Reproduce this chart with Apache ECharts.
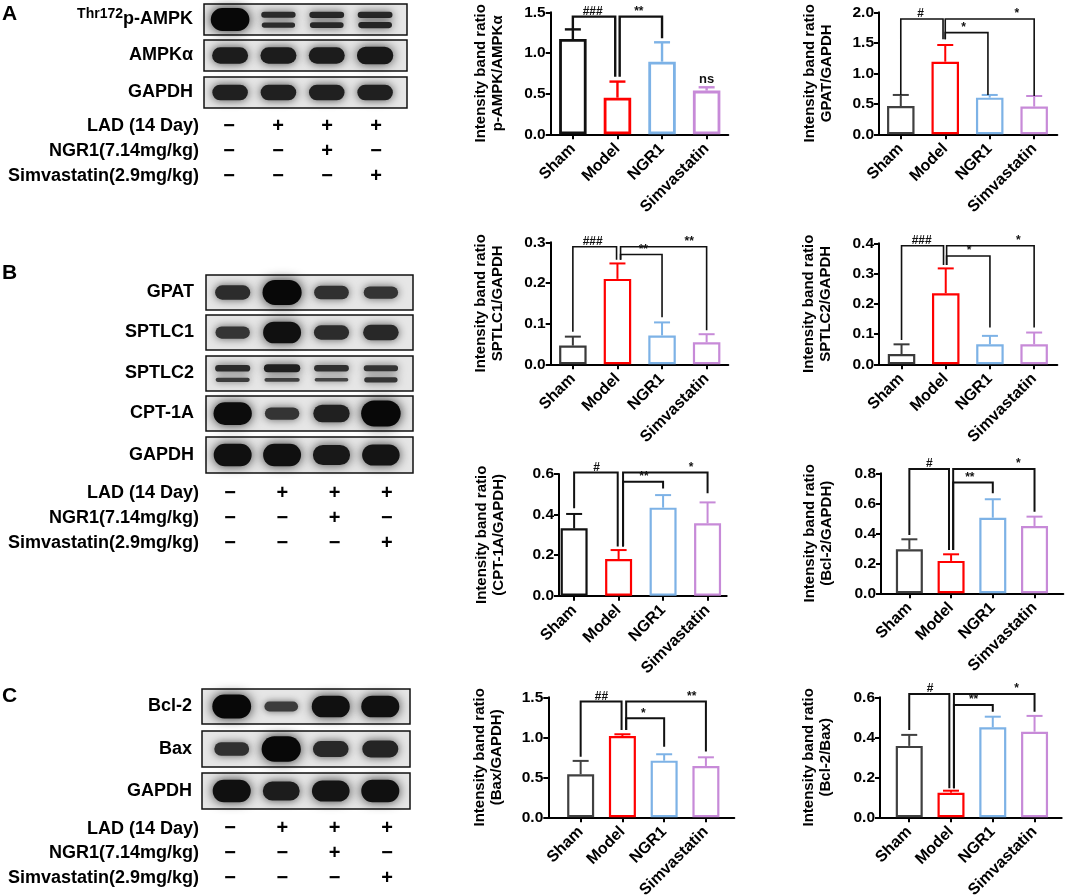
<!DOCTYPE html>
<html><head><meta charset="utf-8">
<script src="https://cdn.jsdelivr.net/npm/echarts@6/dist/echarts.min.js"></script>
<style>html,body{margin:0;padding:0;background:#fff}#c{width:1065px;height:895px}</style>
</head><body><div id="c"></div>
<script>
// ---------- data ----------
const groups = ['Sham', 'Model', 'NGR1', 'Simvastatin'];

const ampkMean = [1.172, 0.45, 0.893, 0.537];
const ampkErr  = [0.118, 0.198, 0.238, 0.041];
const gpatMean = [0.464, 1.19, 0.601, 0.454];
const gpatErr  = [0.181, 0.274, 0.044, 0.174];
const sptlc1Mean = [0.046, 0.210, 0.071, 0.054];
const sptlc1Err  = [0.022, 0.038, 0.032, 0.020];
const sptlc2Mean = [0.034, 0.235, 0.066, 0.066];
const sptlc2Err  = [0.032, 0.082, 0.028, 0.039];
const cptMean = [0.332, 0.181, 0.434, 0.357];
const cptErr  = [0.071, 0.044, 0.062, 0.103];
const bcl2Mean = [0.293, 0.216, 0.504, 0.449];
const bcl2Err  = [0.067, 0.044, 0.123, 0.062];
const baxMean = [0.538, 1.017, 0.708, 0.642];
const baxErr  = [0.167, 0.021, 0.080, 0.108];
const ratioMean = [0.357, 0.123, 0.450, 0.428];
const ratioErr  = [0.055, 0.010, 0.053, 0.079];

// significance brackets: [fromGroup, toGroup, level, fromEnd, toEnd, labelAt, label]
const ampkSig = [[0, 0.95, 1.447, 1.291, 0.709, 0.445, '###'], [1.05, 2, 1.447, 0.709, 1.18, 1.48, '**']];
const ampkNotes = [[3, 0.59, 'ns']];
const gpatSig = [[0, 0.95, 1.891, 0.645, 1.557, 0.446, '#'], [1.0, 1.96, 1.667, 1.557, 0.645, 1.41, '*'], [1.0, 3, 1.891, 1.557, 0.628, 2.61, '*']];
const sptlc1Sig = [[0, 0.98, 0.289, 0.080, 0.257, 0.445, '###'], [1.07, 2, 0.270, 0.257, 0.116, 1.58, '**'], [1.07, 3, 0.289, 0.257, 0.084, 2.61, '**']];
const sptlc2Sig = [[0, 0.95, 0.392, 0.080, 0.328, 0.456, '###'], [1.02, 2, 0.358, 0.328, 0.122, 1.53, '*'], [1.02, 3, 0.392, 0.328, 0.122, 2.64, '*']];
const cptSig = [[0, 0.98, 0.608, 0.431, 0.242, 0.506, '#'], [1.1, 2, 0.562, 0.242, 0.529, 1.57, '**'], [1.1, 3, 0.608, 0.242, 0.505, 2.63, '*']];
const bcl2Sig = [[0, 0.95, 0.829, 0.389, 0.289, 0.48, '#'], [1.05, 2, 0.738, 0.289, 0.667, 1.45, '**'], [1.05, 3, 0.829, 0.289, 0.544, 2.61, '*']];
const baxSig = [[0, 0.98, 1.446, 0.758, 1.092, 0.50, '##'], [1.09, 2, 1.2375, 1.092, 0.883, 1.50, '*'], [1.09, 3, 1.446, 1.092, 0.821, 2.66, '**']];
const ratioSig = [[0, 0.96, 0.617, 0.437, 0.145, 0.5, '#'], [1.07, 2, 0.562, 0.145, 0.528, 1.54, '**'], [1.07, 3, 0.617, 0.145, 0.528, 2.57, '*']];

// western blot band intensities per lane (0..1), optional lower band
const pampkBand = [1.0, 0.45, 0.5, 0.5];
const pampkLow  = [0, 0.45, 0.5, 0.55];
const ampkBand  = [0.65, 0.65, 0.65, 0.7];
const gapdhABand = [0.6, 0.6, 0.6, 0.6];
const gpatBand  = [0.45, 0.95, 0.4, 0.35];
const sptlc1Band = [0.35, 0.8, 0.45, 0.5];
const sptlc2Band = [0.45, 0.6, 0.4, 0.35];
const sptlc2Low  = [0.25, 0.2, 0.15, 0.35];
const cpt1aBand = [0.85, 0.35, 0.6, 1.0];
const gapdhBBand = [0.8, 0.8, 0.7, 0.75];
const bcl2Band = [0.9, 0.25, 0.8, 0.8];
const baxBand  = [0.4, 0.95, 0.5, 0.55];
const gapdhCBand = [0.8, 0.65, 0.75, 0.8];

const treatments = ['LAD (14 Day)', 'NGR1(7.14mg/kg)', 'Simvastatin(2.9mg/kg)'];
const ladSigns  = ['\u2212', '+', '+', '+'];
const ngr1Signs = ['\u2212', '\u2212', '+', '\u2212'];
const simvSigns = ['\u2212', '\u2212', '\u2212', '+'];

// ---------- build ----------
const FONT = '"Liberation Sans", Arial, Helvetica, sans-serif';
const MODEL = '#ff0000', NGR = '#7db2e6', SIMV = '#c78ad8';
const option = { animation: false, backgroundColor: '#fff', grid: [], xAxis: [], yAxis: [], series: [], graphic: [] };

function addGrid(g, x, y) {
  const i = option.grid.length;
  g.outerBoundsMode = 'none';
  g.containLabel = false;
  option.grid.push(g); x.gridIndex = i; y.gridIndex = i;
  option.xAxis.push(x); option.yAxis.push(y);
  return i;
}

function barChart(box, xr, yMax, yInt, name, nameGap, means, errs, sig, notes, sham, st) {
  const cols = [sham, MODEL, NGR, SIMV];
  const i = addGrid({ left: box[0], top: box[1], width: box[2], height: box[3] },
    { type: 'value', min: xr[0], max: xr[1], splitLine: { show: false },
      axisLine: { show: true, onZero: false, lineStyle: { color: '#000', width: 2 } },
      axisTick: { show: true, customValues: [0, 1, 2, 3], length: 5, lineStyle: { color: '#000', width: 2 } },
      axisLabel: { show: true, customValues: [0, 1, 2, 3], formatter: v => groups[Math.round(v)], rotate: 45, margin: 12,
        color: '#000', fontFamily: FONT, fontWeight: 'bold', fontSize: 16 } },
    { type: 'value', min: 0, max: yMax, interval: yInt, splitLine: { show: false },
      name: name, nameLocation: 'middle', nameGap: nameGap,
      nameTextStyle: { color: '#000', fontFamily: FONT, fontWeight: 'bold', fontSize: 15, lineHeight: 17 },
      axisLine: { show: true, onZero: false, lineStyle: { color: '#000', width: 2 } },
      axisTick: { show: true, length: 5, lineStyle: { color: '#000', width: 2 } },
      axisLabel: { formatter: v => v.toFixed(1), margin: 5, color: '#000', fontFamily: FONT, fontWeight: 'bold', fontSize: 15.5 } });
  option.series.push({ type: 'bar', xAxisIndex: i, yAxisIndex: i, barWidth: st.bw, z: 2, silent: true,
    data: means.map((m, k) => ({ value: [k, m], itemStyle: { color: 'rgba(255,255,255,0)', borderColor: cols[k], borderWidth: st.bar } })) });
  option.series.push({ type: 'custom', xAxisIndex: i, yAxisIndex: i, z: 3, silent: true,
    data: means.map((m, k) => [k, m, errs[k]]),
    renderItem: (p, api) => {
      const k = api.value(0), m = api.value(1), e = api.value(2);
      const a = api.coord([k, m]), b = api.coord([k, m + e]);
      const c = cols[p.dataIndex];
      return { type: 'group', children: [
        { type: 'line', shape: { x1: a[0], y1: a[1], x2: b[0], y2: b[1] }, style: { stroke: c, lineWidth: st.err } },
        { type: 'line', shape: { x1: b[0] - 8, y1: b[1], x2: b[0] + 8, y2: b[1] }, style: { stroke: c, lineWidth: st.err } }
      ] };
    } });
  option.series.push({ type: 'custom', xAxisIndex: i, yAxisIndex: i, z: 4, silent: true,
    data: sig.map(s => s.slice(0, 6)),
    renderItem: (p, api) => {
      const x1 = api.value(0), x2 = api.value(1), yl = api.value(2), y1 = api.value(3), y2 = api.value(4), tx = api.value(5);
      const pts = [api.coord([x1, y1]), api.coord([x1, yl]), api.coord([x2, yl]), api.coord([x2, y2])];
      const t = api.coord([tx, yl]);
      return { type: 'group', children: [
        { type: 'polyline', shape: { points: pts }, style: { stroke: '#111', lineWidth: st.brk, fill: null } },
        { type: 'text', x: t[0], y: t[1] + 1, style: { text: sig[p.dataIndex][6], fill: '#111', font: 'bold 12px ' + FONT,
          align: 'center', verticalAlign: 'bottom', textAlign: 'center', textVerticalAlign: 'bottom' } }
      ] };
    } });
  if (notes) {
    option.series.push({ type: 'custom', xAxisIndex: i, yAxisIndex: i, z: 4, silent: true,
      data: notes.map(n => n.slice(0, 2)),
      renderItem: (p, api) => {
        const t = api.coord([api.value(0), api.value(1)]);
        return { type: 'text', x: t[0], y: t[1], style: { text: notes[p.dataIndex][2], fill: '#111', font: 'bold 13px ' + FONT,
          align: 'center', verticalAlign: 'bottom', textAlign: 'center', textVerticalAlign: 'bottom' } };
      } });
  }
}

function bandRect(cx, cy, w, h, s) {
  const g = Math.max(8, Math.round(80 - 80 * s));
  return { type: 'rect', shape: { x: cx - w / 2, y: cy - h / 2, width: w, height: h, r: [h / 2, h / 2, h / 2, h / 2] },
    style: { fill: 'rgb(' + g + ',' + g + ',' + g + ')', shadowBlur: 6 + 6 * s, shadowColor: 'rgba(0,0,0,' + (0.45 + 0.4 * s) + ')' } };
}
function bandItem(p, api) {
  const lane = api.value(0), s = api.value(2), low = api.value(3);
  const c = api.coord([lane, 0]);
  const sz = api.size([1, 1]);
  const bw = sz[0] * (0.64 + 0.16 * s);
  const ch = [];
  if (low > 0) {
    ch.push(bandRect(c[0], c[1] - sz[1] * 0.15, bw, sz[1] * (0.08 + 0.25 * s), s));
    ch.push(bandRect(c[0], c[1] + sz[1] * 0.18, bw * 0.97, sz[1] * (0.06 + 0.25 * low), low));
  } else {
    ch.push(bandRect(c[0], c[1], bw, sz[1] * (0.14 + 0.6 * s), s));
  }
  return { type: 'group', children: ch };
}

const supRich = {
  s: { fontSize: 14, lineHeight: 14, verticalAlign: 'top', fontFamily: FONT, fontWeight: 'bold', color: '#000' },
  m: { fontSize: 18, lineHeight: 24, fontFamily: FONT, fontWeight: 'bold', color: '#000' }
};
function blot(box, xr, label, bands, low, margin) {
  const i = addGrid({ left: box[0], top: box[1], width: box[2], height: box[3], show: true, borderColor: '#111', borderWidth: 1.5, backgroundColor: '#e6e6e6' },
    { type: 'value', min: xr[0], max: xr[1], show: false },
    { type: 'category', data: [label], axisLine: { show: false }, axisTick: { show: false },
      axisLabel: { margin: margin, interval: 0, color: '#000', fontFamily: FONT, fontWeight: 'bold', fontSize: 18, rich: supRich,
        formatter: v => v === 'Thr172p-AMPK' ? '{s|Thr172}{m|p-AMPK}' : v } });
  option.series.push({ type: 'custom', xAxisIndex: i, yAxisIndex: i, silent: true,
    data: bands.map((s, k) => [k, 0, s, low ? low[k] : 0]), renderItem: bandItem });
}

function table(box, xr, margin) {
  const rows = [ladSigns, ngr1Signs, simvSigns];
  const i = addGrid({ left: box[0], top: box[1], width: box[2], height: box[3] },
    { type: 'value', min: xr[0], max: xr[1], show: false },
    { type: 'category', data: treatments, inverse: true, axisLine: { show: false }, axisTick: { show: false },
      axisLabel: { margin: margin, interval: 0, color: '#000', fontFamily: FONT, fontWeight: 'bold', fontSize: 18 } });
  const data = [], txt = [];
  rows.forEach((r, ri) => r.forEach((s, k) => { data.push([k, ri]); txt.push(s); }));
  option.series.push({ type: 'custom', xAxisIndex: i, yAxisIndex: i, silent: true, data: data,
    renderItem: (p, api) => {
      const c = api.coord([api.value(0), api.value(1)]);
      return { type: 'text', x: c[0], y: c[1], style: { text: txt[p.dataIndex], fill: '#000', font: 'bold 20px ' + FONT,
        align: 'center', verticalAlign: 'middle', textAlign: 'center', textVerticalAlign: 'middle' } };
    } });
}

// Panel A
const xrA = [-0.54, 3.66];
blot([204, 4, 203, 31], xrA, 'Thr172p-AMPK', pampkBand, pampkLow, 11);
blot([204, 40, 203, 31], xrA, 'AMPK\u03b1', ampkBand, null, 11);
blot([204, 77, 203, 31], xrA, 'GAPDH', gapdhABand, null, 11);
table([204, 113.5, 203, 75], [-0.51, 3.63], 5);
// Panel B
const xrB = [-0.54, 3.65];
blot([206, 275, 207, 35], xrB, 'GPAT', gpatBand, null, 12);
blot([206, 315, 207, 35], xrB, 'SPTLC1', sptlc1Band, null, 12);
blot([206, 356, 207, 35], xrB, 'SPTLC2', sptlc2Band, sptlc2Low, 12);
blot([206, 396, 207, 35], xrB, 'CPT-1A', cpt1aBand, null, 12);
blot([206, 437, 207, 36], xrB, 'GAPDH', gapdhBBand, null, 12);
table([206, 480.5, 207, 75], [-0.46, 3.5], 7);
// Panel C
const xrC = [-0.6, 3.6];
blot([202, 689, 208, 35], xrC, 'Bcl-2', bcl2Band, null, 10);
blot([202, 731, 208, 36], xrC, 'Bax', baxBand, null, 10);
blot([202, 773, 208, 36], xrC, 'GAPDH', gapdhCBand, null, 10);
table([202, 816.5, 208, 74], [-0.535, 3.44], 3);

// Bar charts
const st1 = { bw: 27.5, bar: 2.8, err: 2.4, brk: 2.4 };
const stB = { bw: 27.5, bar: 2.2, err: 2, brk: 1.6 };
const stC = { bw: 27, bar: 2.2, err: 2, brk: 2 };
barChart([550.7, 12.3, 177.6, 122], [-0.497, 3.486], 1.5, 0.5, 'Intensity band ratio\np-AMPK/AMPK\u03b1', 44, ampkMean, ampkErr, ampkSig, ampkNotes, '#111', st1);
barChart([879, 12.3, 178.3, 122], [-0.49, 3.52], 2.0, 0.5, 'Intensity band ratio\nGPAT/GAPDH', 44, gpatMean, gpatErr, gpatSig, null, '#404040', stB);
barChart([550.7, 242.3, 177.6, 122], [-0.497, 3.486], 0.3, 0.1, 'Intensity band ratio\nSPTLC1/GAPDH', 44, sptlc1Mean, sptlc1Err, sptlc1Sig, null, '#3a3a3a', stB);
barChart([879, 243.3, 178.3, 121], [-0.51, 3.524], 0.4, 0.1, 'Intensity band ratio\nSPTLC2/GAPDH', 45, sptlc2Mean, sptlc2Err, sptlc2Sig, null, '#3a3a3a', stB);
barChart([559, 474, 167.7, 121.7], [-0.34, 3.43], 0.6, 0.2, 'Intensity band ratio\n(CPT-1A/GAPDH)', 52, cptMean, cptErr, cptSig, null, '#111', stC);
barChart([881, 473.3, 182.3, 120], [-0.68, 3.69], 0.8, 0.2, 'Intensity band ratio\n(Bcl-2/GAPDH)', 46, bcl2Mean, bcl2Err, bcl2Sig, null, '#404040', stC);
barChart([548.3, 697.3, 186, 120], [-0.775, 3.68], 1.5, 0.5, 'Intensity band ratio\n(Bax/GAPDH)', 43, baxMean, baxErr, baxSig, null, '#404040', stC);
barChart([880, 697.3, 181.7, 120], [-0.70, 3.65], 0.6, 0.2, 'Intensity band ratio\n(Bcl-2/Bax)', 46, ratioMean, ratioErr, ratioSig, null, '#404040', stC);

// Panel letters
[['A', 4], ['B', 263], ['C', 686]].forEach(l => option.graphic.push({ type: 'text', left: 2, top: l[1],
  style: { text: l[0], fill: '#000', font: 'bold 21px ' + FONT } }));

const chart = echarts.init(document.getElementById('c'), null, { renderer: 'canvas' });
chart.setOption(option);
</script></body></html>
